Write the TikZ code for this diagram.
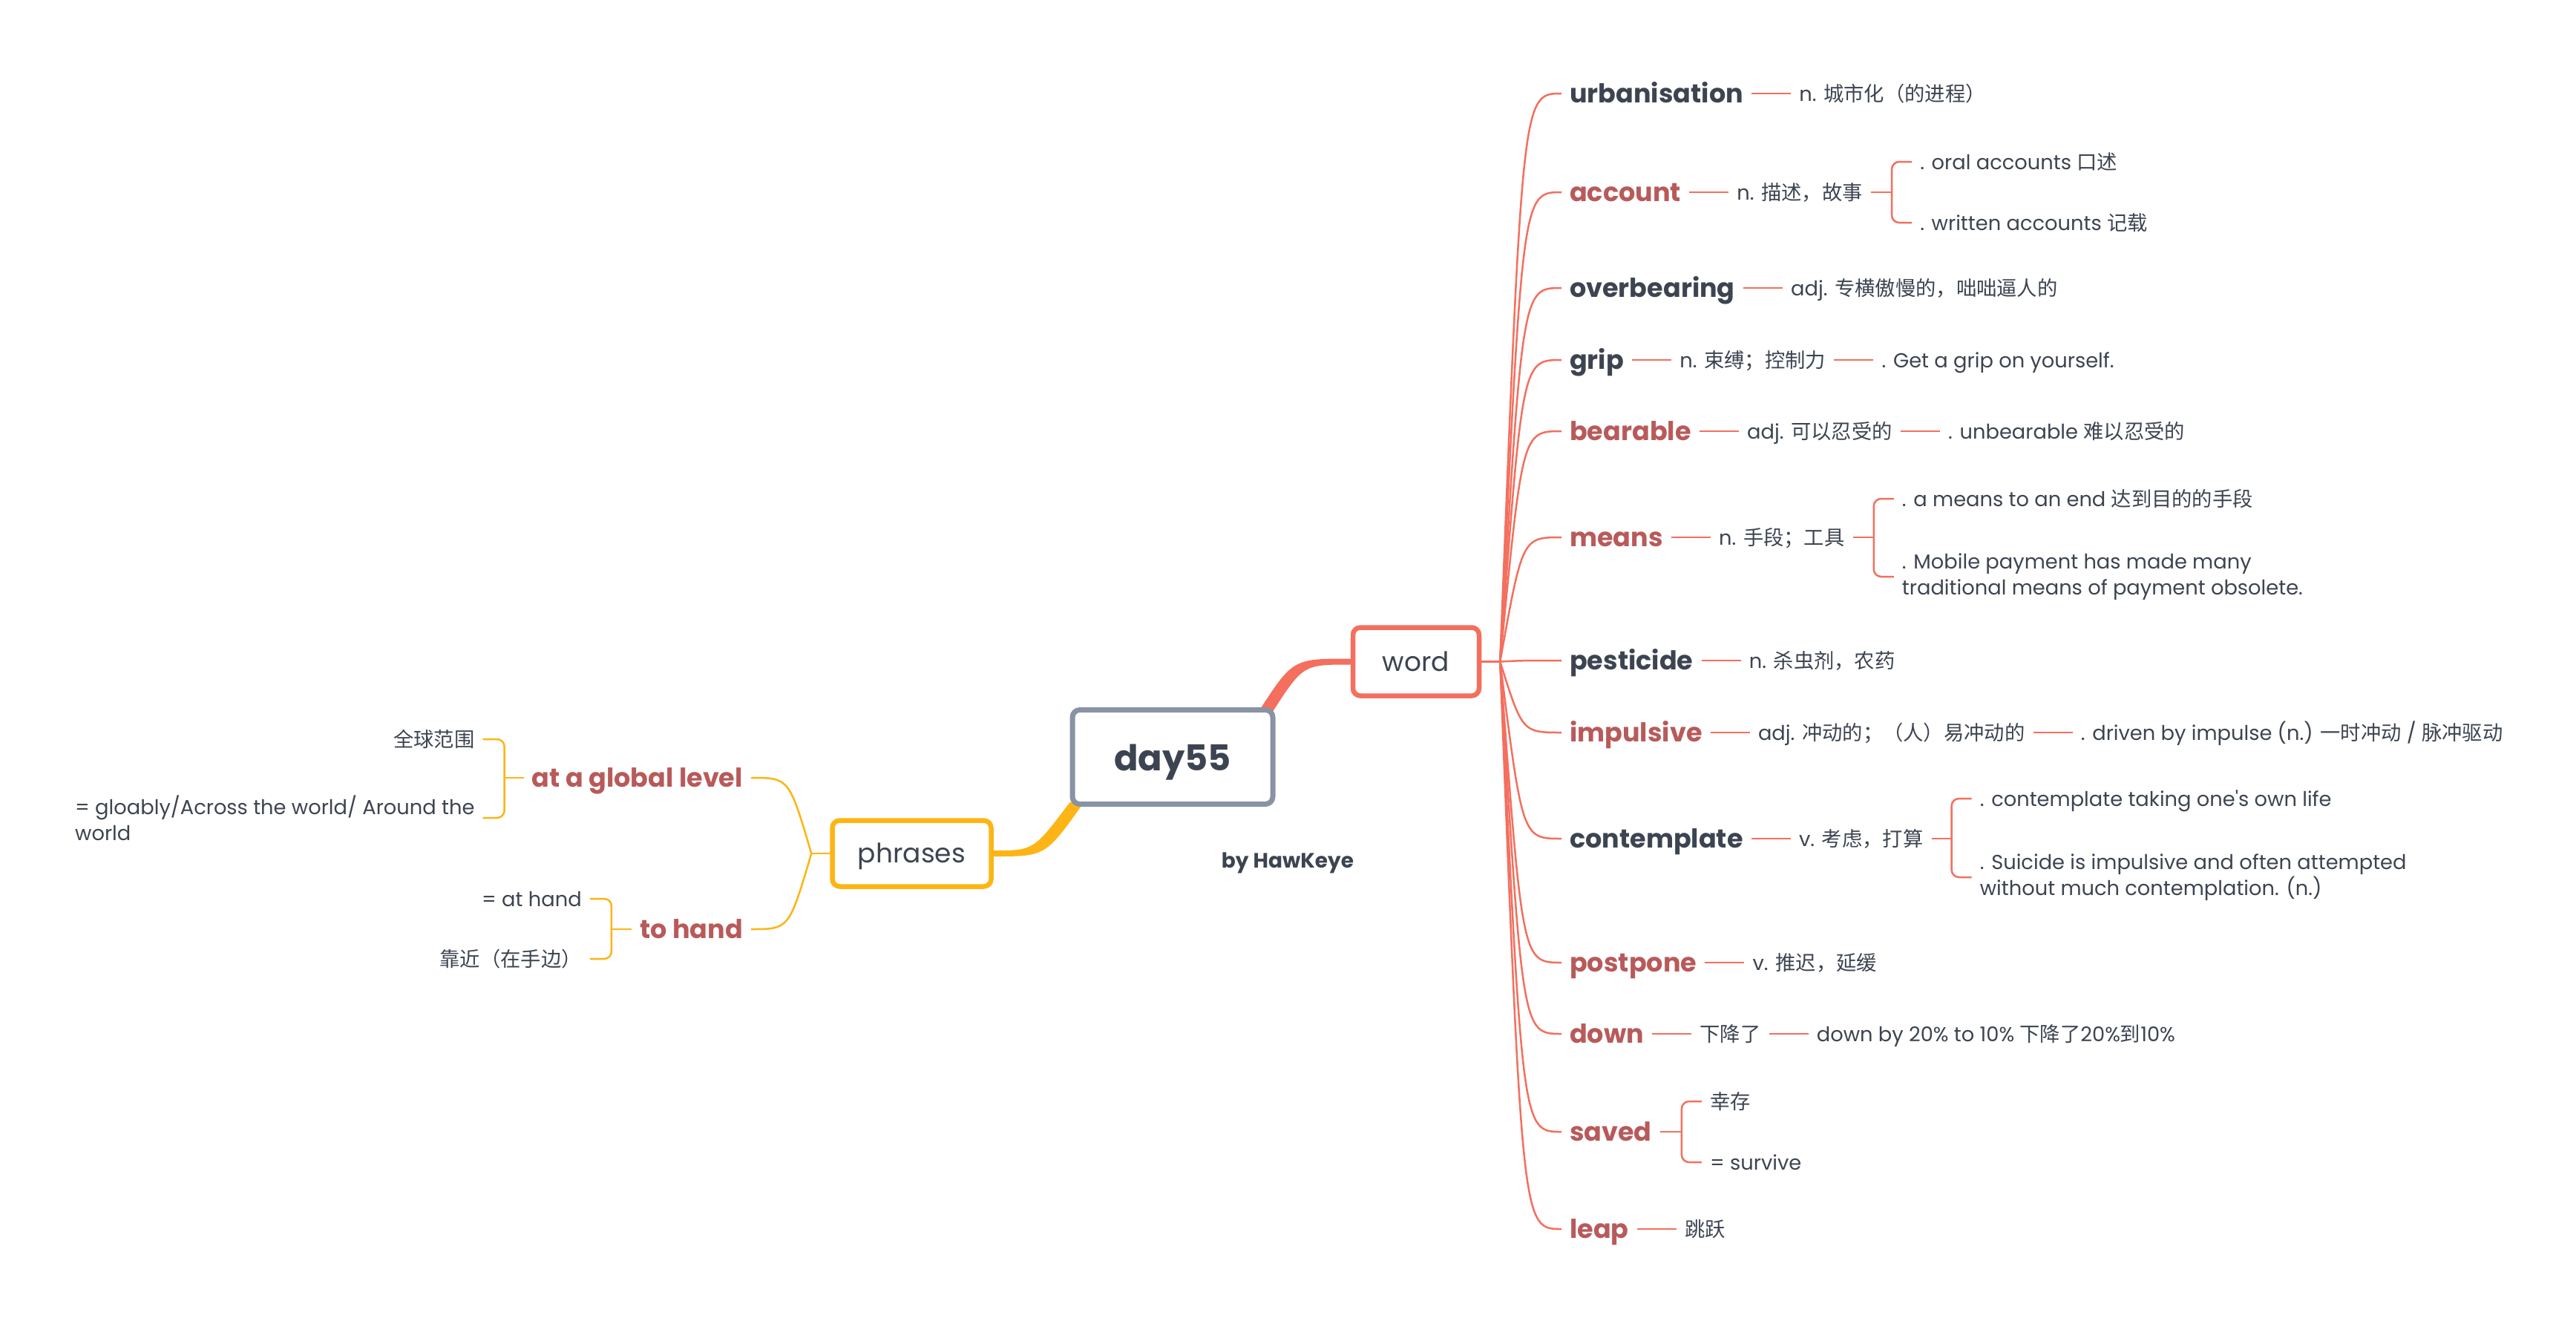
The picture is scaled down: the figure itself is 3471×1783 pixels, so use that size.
\documentclass[tikz,border=0pt]{standalone}
\usepackage{fontspec}
\setmainfont{Poppins}
\newfontfamily\popraw{Poppins}
\newfontfamily\cjkf[Scale=1.0]{Noto Sans CJK SC}
\newcommand\zh[1]{{\cjkf #1}}
\usetikzlibrary{positioning,calc}
\definecolor{coral}{HTML}{F46F5E}
\definecolor{gold}{HTML}{FDB515}
\definecolor{slate}{HTML}{8893A4}
\definecolor{ink}{HTML}{3D4451}
\definecolor{rust}{HTML}{B85A5A}
\pgfdeclarelayer{back}
\pgfdeclarelayer{bg}
\pgfsetlayers{back,bg,main}
\tikzset{
  title/.style={font=\fontsize{35}{42}\selectfont\bfseries, inner xsep=11pt, inner ysep=0pt, text height=28pt, text depth=4pt},
  wd/.style={title, text=ink, anchor=west},
  wr/.style={title, text=rust, anchor=west},
  pr/.style={title, text=rust, anchor=east},
  body/.style={font=\fontsize{27.3}{35}\selectfont, text=ink, inner xsep=11pt, inner ysep=0pt, text height=24pt, text depth=3pt},
  multi/.style={font=\fontsize{27.3}{35}\selectfont, text=ink, inner xsep=11pt, inner ysep=0pt, align=left},
  wl/.style={draw=coral, line width=2.5pt},
  yl/.style={draw=gold, line width=2.5pt},
  brk/.style={rounded corners=10pt},
  box/.style={fill=white, rounded corners=10pt, text=ink}
}
\begin{document}
\begin{tikzpicture}[x=1pt,y=-1pt]
\begin{pgfonlayer}{back}
\path[use as bounding box, fill=white] (0,0) rectangle (3471,1783);
\end{pgfonlayer}

% central nodes
\node[box, draw=slate, line width=7pt, minimum width=270pt, minimum height=127pt, font=\fontsize{48}{56}\selectfont\bfseries] (day55) at (1580,1020) {\raisebox{-7pt}[\height][\depth]{day55}};
\node[box, draw=coral, line width=6.5pt, minimum width=170pt, minimum height=92pt, font=\fontsize{36}{42}\selectfont] (word) at (1908,891.5) {word};
\node[box, draw=gold, line width=6.5pt, minimum width=214pt, minimum height=89pt, font=\fontsize{36}{42}\selectfont] (phrases) at (1228.5,1150) {\raisebox{-4pt}[\height][\depth]{phrases}};
\node[font=\fontsize{28}{34}\selectfont\bfseries, text=ink] (by) at (1735,1163) {by HawKeye};

% thick tapered main connectors
\begin{pgfonlayer}{bg}
\fill[coral] ($(day55.north east)+(-24,8)$) .. controls ($(word.west)+(-78,-4)$) .. ($(word.west)+(0,-4)$)
  -- ($(word.west)+(0,4)$) .. controls ($(word.west)+(-64,4)$) .. ($(day55.north east)+(-5,8)$) -- cycle;
\fill[gold] ($(day55.south west)+(0,-6)$) .. controls ($(phrases.east)+(54,-4)$) .. ($(phrases.east)+(0,-4)$)
  -- ($(phrases.east)+(0,4)$) .. controls ($(phrases.east)+(70,4)$) .. ($(day55.south west)+(19,-6)$) -- cycle;
\end{pgfonlayer}

% ---------------- word branch ----------------
\coordinate (wj) at ($(word.east)+(25,0)$);
\draw[wl] (word.east) -- (wj);

\node[wd] (t1) at (2104,126) {urbanisation};
\node[body, right=53pt of t1] (d1) {n. \zh{城市化（的进程）}};

\node[wr] (t2) at (2104,259) {account};
\node[body, right=53pt of t2] (d2) {n. \zh{描述，故事}};
\coordinate (b2) at ($(d2.east)+(28,0)$);
\node[body, anchor=west] (e2a) at ($(b2)+(27,-41)$) {. oral accounts \zh{口述}};
\node[body, anchor=west] (e2b) at ($(b2)+(27,41)$) {. written accounts \zh{记载}};

\node[wd] (t3) at (2104,388) {overbearing};
\node[body, right=53pt of t3] (d3) {adj. \zh{专横傲慢的，咄咄逼人的}};

\node[wd] (t4) at (2104,485) {grip};
\node[body, right=53pt of t4] (d4) {n. \zh{束缚；控制力}};
\node[body, right=53pt of d4] (e4) {. Get a grip on yourself.};

\node[wr] (t5) at (2104,581) {bearable};
\node[body, right=53pt of t5] (d5) {adj. \zh{可以忍受的}};
\node[body, right=53pt of d5] (e5) {. unbearable \zh{难以忍受的}};

\node[wr] (t6) at (2104,724) {means};
\node[body, right=53pt of t6] (d6) {n. \zh{手段；工具}};
\coordinate (b6) at ($(d6.east)+(28,0)$);
\node[body, anchor=west] (e6a) at ($(b6)+(27,-52)$) {. a means to an end \zh{达到目的的手段}};
\node[multi, anchor=west] (e6b) at ($(b6)+(27,53)$) {. Mobile payment has made many\\traditional means of payment obsolete.};

\node[wd] (t7) at (2104,890) {pesticide};
\node[body, right=53pt of t7] (d7) {n. \zh{杀虫剂，农药}};

\node[wr] (t8) at (2104,987) {impulsive};
\node[body, right=53pt of t8] (d8) {adj. \zh{冲动的；（人）易冲动的}};
\node[body, right=53pt of d8] (e8) {. driven by impulse (n.) \zh{一时冲动} / \zh{脉冲驱动}};

\node[wd] (t9) at (2104,1130) {contemplate};
\node[body, right=53pt of t9] (d9) {v. \zh{考虑，打算}};
\coordinate (b9) at ($(d9.east)+(27,0)$);
\node[body, anchor=west] (e9a) at ($(b9)+(27,-54)$) {. contemplate taking one{\popraw '}s own life};
\node[multi, anchor=west] (e9b) at ($(b9)+(27,52)$) {. Suicide is impulsive and often attempted\\without much contemplation. (n.)};

\node[wr] (t10) at (2104,1297) {postpone};
\node[body, right=53pt of t10] (d10) {v. \zh{推迟，延缓}};

\node[wr] (t11) at (2104,1393) {down};
\node[body, right=53pt of t11] (d11) {\zh{下降了}};
\node[body, right=53pt of d11] (e11) {down by 20\% to 10\% \zh{下降了}20\%\zh{到}10\%};

\node[wr] (t12) at (2104,1525) {saved};
\coordinate (b12) at ($(t12.east)+(29,0)$);
\node[body, anchor=west] (e12a) at ($(b12)+(27,-41)$) {\zh{幸存}};
\node[body, anchor=west] (e12b) at ($(b12)+(27,41)$) {= survive};

\node[wr] (t13) at (2104,1656) {leap};
\node[body, right=53pt of t13] (d13) {\zh{跳跃}};

\foreach \t in {t1,t2,t3,t4,t5,t6,t7,t8,t9,t10,t11,t12,t13}
  \draw[wl] (wj) .. controls ($(wj |- \t.west)+(30,0)$) .. (\t.west);

\foreach \a/\b in {t1/d1,t2/d2,t3/d3,t4/d4,d4/e4,t5/d5,d5/e5,t6/d6,t7/d7,t8/d8,d8/e8,t9/d9,t10/d10,t11/d11,d11/e11,t13/d13}
  \draw[wl] (\a.east) -- (\b.west);

\draw[wl] (d2.east) -- (b2);
\draw[wl, brk] (e2a.west) -- (e2a.west -| b2) -- (e2b.west -| b2) -- (e2b.west);
\draw[wl] (d6.east) -- (b6);
\draw[wl, brk] (e6a.west) -- (e6a.west -| b6) -- (e6b.west -| b6) -- (e6b.west);
\draw[wl] (d9.east) -- (b9);
\draw[wl, brk] (e9a.west) -- (e9a.west -| b9) -- (e9b.west -| b9) -- (e9b.west);
\draw[wl] (t12.east) -- (b12);
\draw[wl, brk] (e12a.west) -- (e12a.west -| b12) -- (e12b.west -| b12) -- (e12b.west);

% ---------------- phrases branch ----------------
\coordinate (pj) at ($(phrases.west)+(-25,0)$);
\draw[yl] (phrases.west) -- (pj);

\node[pr] (p1) at (1012,1048) {at a global level};
\coordinate (b14) at ($(p1.west)+(-26,0)$);
\node[body, anchor=east] (q1a) at ($(b14)+(-29,-52)$) {\zh{全球范围}};
\node[multi, anchor=east] (q1b) at ($(b14)+(-29,54)$) {= gloably/Across the world/ Around the\\world};

\node[pr] (p2) at (1012,1252) {to hand};
\coordinate (b15) at ($(p2.west)+(-27,0)$);
\node[body, anchor=east] (q2a) at ($(b15)+(-29,-41)$) {= at hand};
\node[body, anchor=east] (q2b) at ($(b15)+(-29,40)$) {\zh{靠近（在手边）}};

\foreach \t in {p1,p2}
  \draw[yl] (pj) .. controls ($(pj |- \t.east)+(-30,0)$) .. (\t.east);

\draw[yl] (p1.west) -- (b14);
\draw[yl, brk] (q1a.east) -- (q1a.east -| b14) -- (q1b.east -| b14) -- (q1b.east);
\draw[yl] (p2.west) -- (b15);
\draw[yl, brk] (q2a.east) -- (q2a.east -| b15) -- (q2b.east -| b15) -- (q2b.east);
\end{tikzpicture}
\end{document}
